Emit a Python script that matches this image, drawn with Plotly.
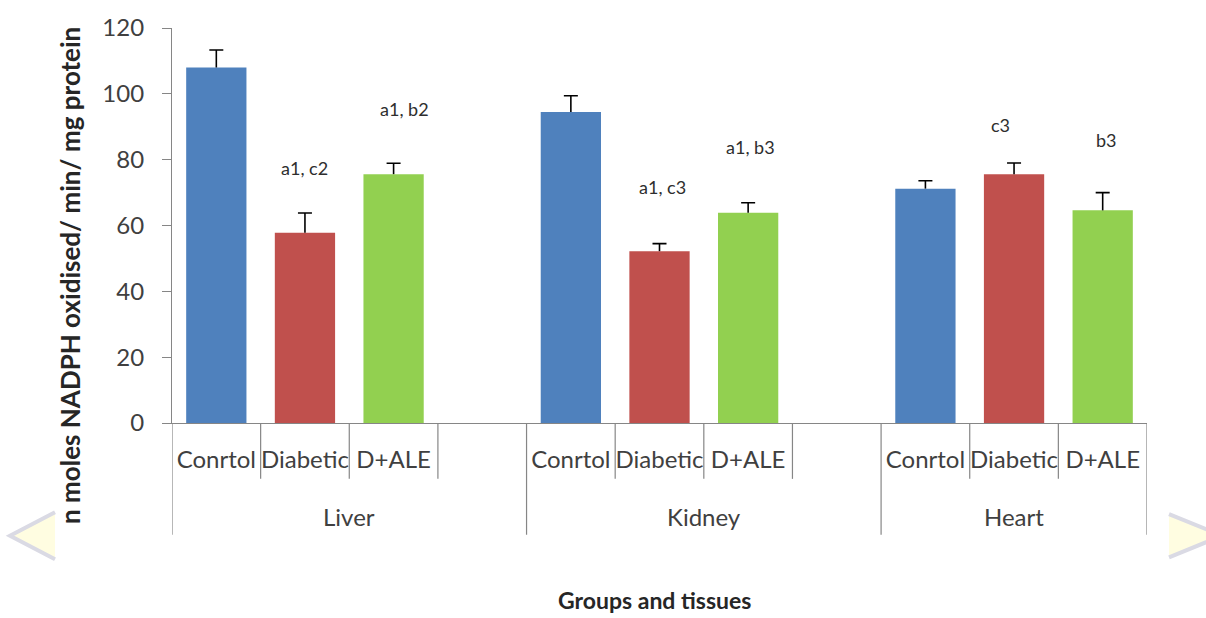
import plotly.graph_objects as go

# ---- data ----
tissues = ["Liver", "Kidney", "Heart"]
groups = ["Conrtol", "Diabetic", "D+ALE"]
control_vals = [108.0, 94.5, 71.2]
diabetic_vals = [57.8, 52.2, 75.6]
ale_vals = [75.6, 63.9, 64.6]
control_err = [5.3, 4.9, 2.4]
diabetic_err = [6.0, 2.3, 3.4]
ale_err = [3.3, 3.0, 5.4]
sig_labels = ["a1, c2", "a1, b2", "a1, c3", "a1, b3", "c3", "b3"]
y_ticks = [0, 20, 40, 60, 80, 100, 120]

# ---- layout constants ----
W, H = 1206, 618
L, R, T, B = 172, 59, 20, 195
PW, PH = W - L - R, H - T - B
SLOTS_PER_TISSUE = 4           # three bars plus one empty gap slot
FONT = "Lato"
AXIS_GREY = "#868686"
TEXT_GREY = "#404040"
colors = ["#4F81BD", "#C0504D", "#92D050"]
ERR_THICK = 1.6
CAP_HALF = 7

def px_x(px):
    return (px - L) / PW

def px_y(py):
    return (H - B - py) / PH

def slot(t, g):
    return t * SLOTS_PER_TISSUE + g

fig = go.Figure()

series = [(control_vals, control_err), (diabetic_vals, diabetic_err), (ale_vals, ale_err)]
for gi, (vals, errs) in enumerate(series):
    xs = [slot(ti, gi) for ti in range(len(tissues))]
    # bar with the upward stem of the error bar (no caps here)
    fig.add_trace(go.Bar(
        x=xs, y=vals, width=0.68,
        marker=dict(color=colors[gi], line=dict(width=0)),
        error_y=dict(type="data", array=errs, arrayminus=[0] * len(errs),
                     symmetric=False, color="black", thickness=ERR_THICK, width=0),
        name=groups[gi], showlegend=False,
    ))
    # cap on top of each error bar
    fig.add_trace(go.Scatter(
        x=xs, y=[v + e for v, e in zip(vals, errs)], mode="markers",
        marker=dict(opacity=0, size=1),
        error_y=dict(type="data", array=[0] * len(errs), color="black",
                     thickness=ERR_THICK, width=CAP_HALF),
        hoverinfo="skip", showlegend=False,
    ))

n_slots = slot(len(tissues) - 1, len(groups) - 1) + 1

# significance letters above the treated bars
label_slots = [slot(0, 1), slot(0, 2), slot(1, 1), slot(1, 2), slot(2, 1), slot(2, 2)]
label_heights = [77.4, 95.3, 71.8, 83.7, 90.5, 86.1]
label_shift = [0, 11, 3, 2, -14, 4]
annotations = []
for s, txt, yh, dx in zip(label_slots, sig_labels, label_heights, label_shift):
    annotations.append(dict(x=s, y=yh, xref="x", yref="y", text=txt, showarrow=False,
                            xshift=dx, font=dict(family=FONT, size=18, color="#2e2e2e"),
                            xanchor="center", yanchor="middle"))

# tissue group labels
for ti, name in enumerate(tissues):
    first = slot(ti, 0) - 0.5
    last = slot(ti, len(groups) - 1) + 0.5 if ti == len(tissues) - 1 else slot(ti, SLOTS_PER_TISSUE - 1) + 0.5
    annotations.append(dict(x=(first + last) / 2, y=px_y(518), xref="x", yref="paper",
                            text=name, showarrow=False, xanchor="center", yanchor="middle",
                            font=dict(family=FONT, size=24, color=TEXT_GREY)))

# axis titles
annotations.append(dict(x=px_x(70), y=px_y(273), xref="paper", yref="paper",
                        text="<b>n moles NADPH oxidised/ min/ mg protein</b>", textangle=-90,
                        showarrow=False, xanchor="center", yanchor="middle",
                        font=dict(family=FONT, size=26, color="#262626")))
annotations.append(dict(x=px_x(654), y=px_y(604), xref="paper", yref="paper",
                        text="<b>Groups and tissues</b>", showarrow=False,
                        xanchor="center", yanchor="middle",
                        font=dict(family=FONT, size=23, color="#262626")))

# category dividers below the x axis
shapes = []
for b in range(n_slots + 1):
    xb = b - 0.5
    long_div = (b % SLOTS_PER_TISSUE == 0) or b == n_slots
    bottom = px_y(537) if long_div else px_y(480)
    shapes.append(dict(type="line", xref="x", yref="paper", x0=xb, x1=xb, y0=0, y1=bottom,
                       line=dict(color=AXIS_GREY, width=1.2)))

# page navigation arrows at the sides
def tri_path(pts, close):
    p = "M " + " L ".join(f"{px_x(a)} {px_y(b)}" for a, b in pts)
    return p + (" Z" if close else "")

left_tri = [(55, 514), (10, 538), (55, 562)]
right_tri = [(1169, 516), (1222, 538), (1169, 560)]
for tri in (left_tri, right_tri):
    shapes.append(dict(type="path", xref="paper", yref="paper", path=tri_path(tri, True),
                       fillcolor="#FFFDE1", line=dict(width=0), layer="below"))
    shapes.append(dict(type="path", xref="paper", yref="paper", path=tri_path(tri, False),
                       line=dict(color="#DADAE4", width=4), layer="below"))

fig.update_layout(
    width=W, height=H,
    margin=dict(l=L, r=R, t=T, b=B, pad=0),
    paper_bgcolor="white", plot_bgcolor="white",
    bargap=0.32,
    annotations=annotations,
    shapes=shapes,
    xaxis=dict(
        range=[-0.5, n_slots - 0.5],
        tickmode="array",
        tickvals=[slot(ti, gi) for ti in range(len(tissues)) for gi in range(len(groups))],
        ticktext=[g for _ in tissues for g in groups],
        ticks="", showgrid=False, zeroline=False,
        showline=True, linecolor=AXIS_GREY, linewidth=1.2,
        tickfont=dict(family=FONT, size=24, color=TEXT_GREY),
        ticklabelstandoff=15,
        fixedrange=True,
    ),
    yaxis=dict(
        range=[0, 120],
        tickmode="array", tickvals=y_ticks,
        ticks="outside", ticklen=9, tickcolor=AXIS_GREY, tickwidth=1.2,
        showline=True, linecolor=AXIS_GREY, linewidth=1.2,
        showgrid=False, zeroline=False,
        tickfont=dict(family=FONT, size=24, color=TEXT_GREY),
        ticklabelstandoff=13,
        fixedrange=True,
    ),
)

fig.write_html("out.html")
